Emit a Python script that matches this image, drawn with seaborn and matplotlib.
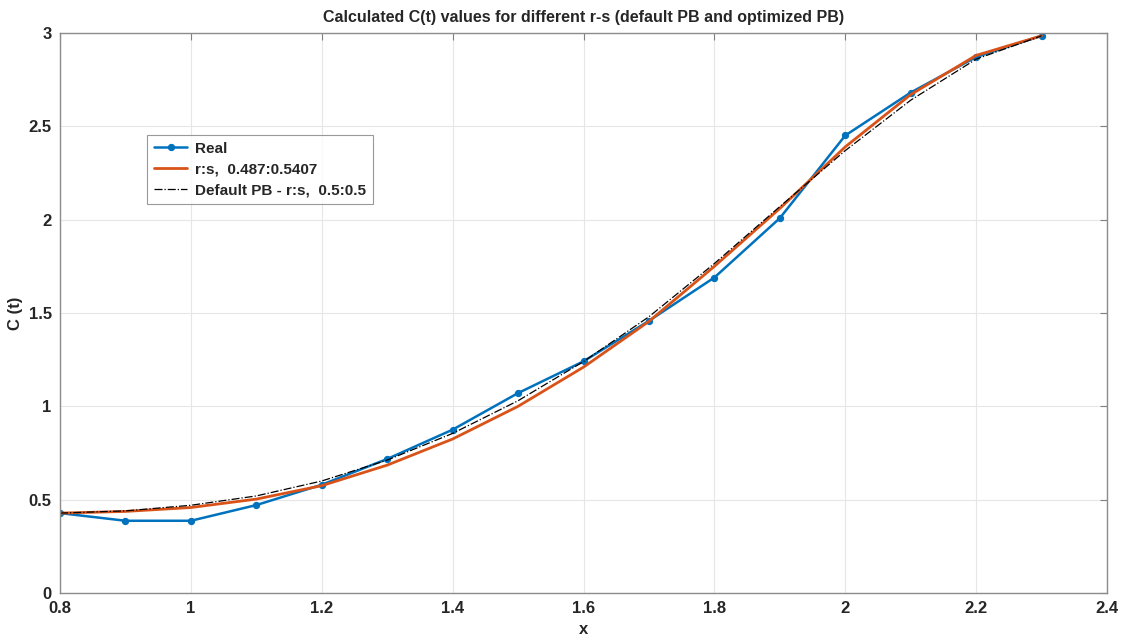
import matplotlib
matplotlib.use("Agg")
import matplotlib.pyplot as plt
import matplotlib.ticker as mticker
import seaborn as sns

# values
x_vals = [0.8, 0.9, 1.0, 1.1, 1.2, 1.3, 1.4, 1.5, 1.6, 1.7, 1.8, 1.9, 2.0, 2.1, 2.2, 2.3]
real = [0.428, 0.387, 0.387, 0.471, 0.580, 0.718, 0.875, 1.071, 1.241, 1.458, 1.690, 2.008, 2.451, 2.681, 2.871, 2.985]
optimized = [0.428, 0.437, 0.458, 0.503, 0.575, 0.685, 0.825, 1.000, 1.210, 1.455, 1.750, 2.060, 2.390, 2.670, 2.880, 2.985]
default_pb = [0.428, 0.440, 0.470, 0.520, 0.600, 0.712, 0.855, 1.030, 1.240, 1.480, 1.765, 2.070, 2.370, 2.640, 2.860, 2.985]

sns.set_style("whitegrid")
plt.rcParams["font.family"] = ["Liberation Sans", "DejaVu Sans"]
plt.rcParams["font.weight"] = "bold"

fig = plt.figure(figsize=(11.22, 6.4), dpi=100)
ax = fig.add_axes([60 / 1122, 47 / 640, 1047 / 1122, 560 / 640])

sns.lineplot(x=x_vals, y=real, ax=ax, color="#0072BD", linewidth=1.8,
             marker="o", markersize=4.5, markeredgecolor="#0072BD", label="Real")
sns.lineplot(x=x_vals, y=optimized, ax=ax, color="#D95319", linewidth=2.0,
             label="r:s,  0.487:0.5407")
sns.lineplot(x=x_vals, y=default_pb, ax=ax, color="black", linewidth=0.9,
             linestyle="-.", label="Default PB - r:s,  0.5:0.5")

ax.set_xlim(0.8, 2.4)
ax.set_ylim(0, 3)
ax.xaxis.set_major_locator(mticker.MultipleLocator(0.2))
ax.yaxis.set_major_locator(mticker.MultipleLocator(0.5))
ax.xaxis.set_major_formatter(mticker.FormatStrFormatter("%g"))
ax.yaxis.set_major_formatter(mticker.FormatStrFormatter("%g"))
ax.tick_params(direction="in", length=5, width=0.8, color="#808080",
               labelcolor="#262626", labelsize=12, top=True, right=True, pad=6)
ax.grid(True, color="#e6e6e6", linewidth=0.8)
for s in ax.spines.values():
    s.set_color("#8c8c8c")
    s.set_linewidth(1.0)
    s.set_visible(True)

ax.set_title("Calculated C(t) values for different r-s (default PB and optimized PB)",
             fontsize=11.5, fontweight="bold", pad=8)
ax.set_xlabel("x", fontsize=12, fontweight="bold", labelpad=4)
ax.set_ylabel("C (t)", fontsize=12, fontweight="bold", labelpad=4)

leg = ax.legend(loc="upper left", bbox_to_anchor=(0.083, 0.818), fontsize=11,
                frameon=True, fancybox=False, handlelength=2.2, borderpad=0.45,
                labelspacing=0.45, handletextpad=0.5, borderaxespad=0)
leg.get_frame().set_edgecolor("#808080")
leg.get_frame().set_linewidth(0.8)
for t in leg.get_texts():
    t.set_fontweight("bold")

fig.savefig("out.png", dpi=100)
